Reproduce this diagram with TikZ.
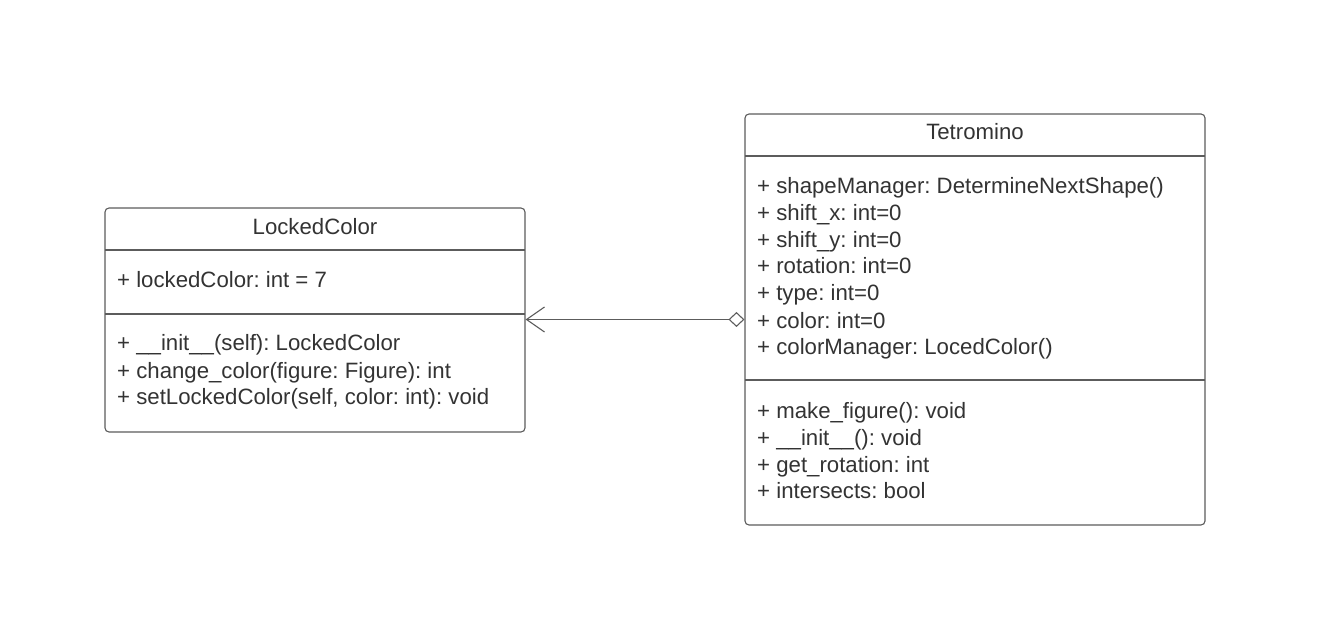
\documentclass[tikz,border=0pt]{standalone}
\usepackage{fontspec}
\setmainfont{Liberation Sans}
\usetikzlibrary{arrows.meta}
\definecolor{txt}{HTML}{333333}
\definecolor{ln}{HTML}{5C5C5C}
\frenchspacing
\tikzset{
  umlbox/.style={draw=ln, line width=1.1pt, rounded corners=4pt, fill=white, inner sep=0pt},
  sep/.style={draw=ln, line width=1.1pt},
  lbl/.style={anchor=base west, inner sep=0pt, text=txt, font=\fontsize{22.2}{26}\selectfont\frenchspacing},
  ttl/.style={anchor=base, inner sep=0pt, text=txt, font=\fontsize{22.2}{26}\selectfont\frenchspacing},
  conn/.style={draw=ln, line width=1.1pt}
}
\begin{document}
\begin{tikzpicture}[x=1pt,y=-1pt]
\useasboundingbox (0,0) rectangle (1320,620);
% LockedColor
\node[umlbox, minimum width=420pt, minimum height=224pt] (lc) at (315,320) {};
\draw[sep] (105,250) -- (525,250);
\draw[sep] (105,314) -- (525,314);
\node[ttl] (lct) at (315,235) {LockedColor};
\node[lbl] (lca) at (117,288) {+ lockedColor: int = 7};
\node[lbl] (lcm1) at (117,351) {+ \_\_init\_\_(self): LockedColor};
\node[lbl] (lcm2) at (117,378) {+ change\_color(figure: Figure): int};
\node[lbl] (lcm3) at (117,404) {+ setLockedColor(self, color: int): void};
% Tetromino
\node[umlbox, minimum width=460pt, minimum height=411pt] (tet) at (975,319.5) {};
\draw[sep] (745,156) -- (1205,156);
\draw[sep] (745,380) -- (1205,380);
\node[ttl] (tt) at (975,140) {Tetromino};
\node[lbl] (ta1) at (757,194) {+ shapeManager: DetermineNextShape()};
\node[lbl] (ta2) at (757,221) {+ shift\_x: int=0};
\node[lbl] (ta3) at (757,248) {+ shift\_y: int=0};
\node[lbl] (ta4) at (757,274) {+ rotation: int=0};
\node[lbl] (ta5) at (757,301) {+ type: int=0};
\node[lbl] (ta6) at (757,328) {+ color: int=0};
\node[lbl] (ta7) at (757,354) {+ colorManager: LocedColor()};
\node[lbl] (tm1) at (757,418) {+ make\_figure(): void};
\node[lbl] (tm2) at (757,445) {+ \_\_init\_\_(): void};
\node[lbl] (tm3) at (757,472) {+ get\_rotation: int};
\node[lbl] (tm4) at (757,498) {+ intersects: bool};
% connector
\draw[conn, {Diamond[open,length=16pt,width=15pt]}-{Straight Barb[length=18pt,width=25pt]}] (tet.west) -- (tet.west -| lc.east);
\end{tikzpicture}
\end{document}
